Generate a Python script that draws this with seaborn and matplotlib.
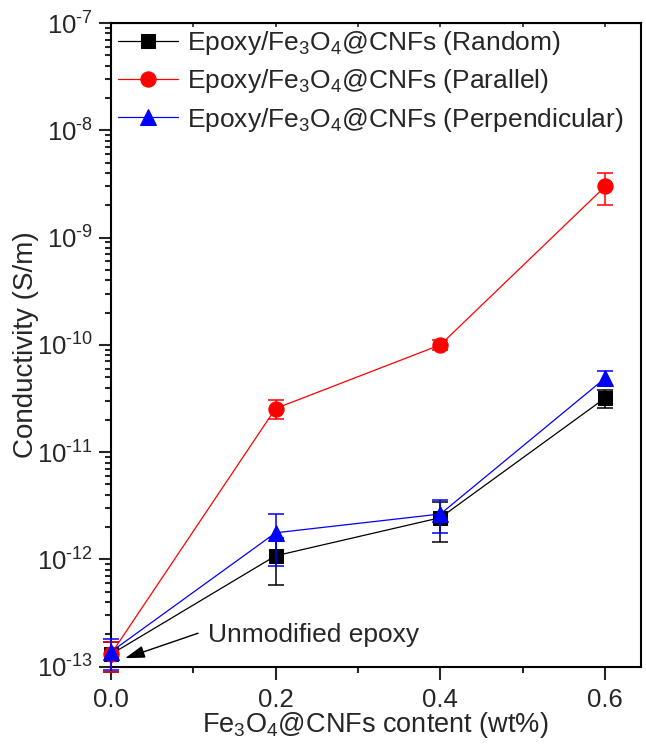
import matplotlib
matplotlib.use("Agg")
import math
import matplotlib.pyplot as plt
import matplotlib.ticker as mticker
import seaborn as sns
import pandas as pd

# values
content = [0.0, 0.2, 0.4, 0.6]
random_vals = [1.3e-13, 1.08e-12, 2.45e-12, 3.2e-11]
random_err = [0.4e-13, 0.5e-12, 1.0e-12, 0.6e-11]
parallel_vals = [1.3e-13, 2.55e-11, 1.0e-10, 3.0e-9]
parallel_err = [0.4e-13, 0.5e-11, 0.1e-10, 1.0e-9]
perp_vals = [1.37e-13, 1.77e-12, 2.65e-12, 4.9e-11]
perp_err = [0.44e-13, 0.9e-12, 0.9e-12, 0.8e-11]

series_names = [
    "Epoxy/Fe$_3$O$_4$@CNFs (Random)",
    "Epoxy/Fe$_3$O$_4$@CNFs (Parallel)",
    "Epoxy/Fe$_3$O$_4$@CNFs (Perpendicular)",
]
series_vals = [random_vals, parallel_vals, perp_vals]
series_err = [random_err, parallel_err, perp_err]
colors = ["black", "#ff0000", "#0000ff"]
markers = ["s", "o", "^"]
msizes = [10, 11, 12]

sns.set_style("ticks")
plt.rcParams["font.family"] = ["Liberation Sans", "DejaVu Sans"]
plt.rcParams["mathtext.fontset"] = "custom"
plt.rcParams["mathtext.rm"] = "Liberation Sans"
plt.rcParams["mathtext.it"] = "Liberation Sans:italic"
plt.rcParams["mathtext.bf"] = "Liberation Sans:bold"


def decade_label(v, pos):
    # hyphen-style exponent like the original figure
    e = int(round(math.log10(v)))
    sign = "\u2010" if e < 0 else ""
    return "$10^{%s%d}$" % (sign, abs(e))


fig = plt.figure(figsize=(6.46, 7.5), dpi=100)
ax = fig.add_axes([0.1714, 0.1111, 0.8204, 0.8582])

for name, vals, err, c, m, ms in zip(series_names, series_vals, series_err, colors, markers, msizes):
    df = pd.DataFrame({"x": content, "y": vals})
    sns.lineplot(data=df, x="x", y="y", ax=ax, color=c, marker=m, markersize=ms,
                 markeredgecolor=c, linewidth=0.9, label=name, clip_on=False, zorder=3)
    ax.errorbar(content, vals, yerr=err, fmt="none", ecolor=c, elinewidth=1.1,
                capsize=6, capthick=1.1, clip_on=False, zorder=3)

ax.set_yscale("log")
ax.set_ylim(1e-13, 1e-7)
ax.set_xlim(0, 0.643)
ax.xaxis.set_major_locator(mticker.MultipleLocator(0.2))
ax.xaxis.set_minor_locator(mticker.MultipleLocator(0.1))
ax.xaxis.set_major_formatter(mticker.FormatStrFormatter("%.1f"))
ax.yaxis.set_major_locator(mticker.LogLocator(base=10, numticks=10))
ax.yaxis.set_major_formatter(mticker.FuncFormatter(decade_label))
ax.yaxis.set_minor_locator(mticker.LogLocator(base=10, subs=range(2, 10), numticks=20))
ax.yaxis.set_minor_formatter(mticker.NullFormatter())

ax.tick_params(axis="both", which="major", direction="out", length=9, width=1.5,
               labelsize=18.5)
ax.tick_params(axis="both", which="minor", direction="out", length=4.5, width=1.5)
ax.tick_params(axis="x", which="major", pad=6)
ax.tick_params(axis="y", which="major", pad=3.5)
for s in ax.spines.values():
    s.set_linewidth(1.5)
    s.set_color("black")

# small inward ticks along the top edge
top = ax.secondary_xaxis("top")
top.xaxis.set_major_locator(mticker.MultipleLocator(0.1))
top.tick_params(direction="in", length=3, width=1.2, labeltop=False)

ax.set_xlabel("Fe$_3$O$_4$@CNFs content (wt%)", fontsize=19.5)
ax.set_ylabel("Conductivity (S/m)", fontsize=20)
ax.xaxis.set_label_coords(0.5, -0.068)
ax.yaxis.set_label_coords(-0.136, 0.5)

ax.annotate("", xy=(0.0174, 1.2e-13), xytext=(0.106, 2.05e-13),
            arrowprops=dict(arrowstyle="-|>,head_length=0.8,head_width=0.25",
                            color="black", lw=1, mutation_scale=15, shrinkA=0, shrinkB=0))
ax.text(0.118, 1.97e-13, "Unmodified epoxy", fontsize=19, ha="left", va="center")

ax.legend(loc="upper left", bbox_to_anchor=(0.0, 1.0023), frameon=False, fontsize=19,
          handlelength=2.27, handletextpad=0.34, labelspacing=0.39,
          borderpad=0.28, borderaxespad=0)

fig.savefig("out.png", dpi=100)
